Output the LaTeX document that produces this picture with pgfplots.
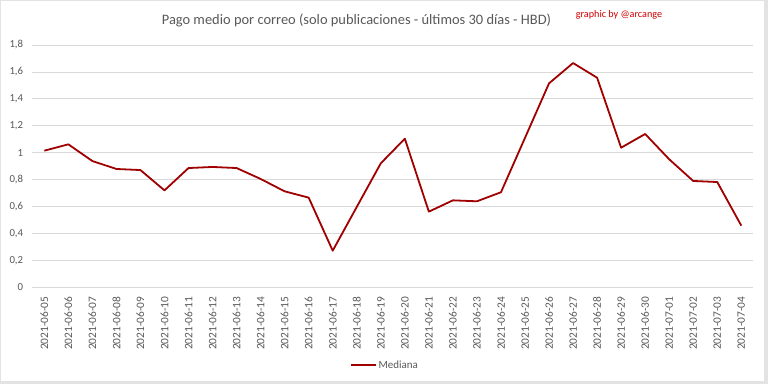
\documentclass[border=0pt]{standalone}
\usepackage{pgfplots}
\pgfplotsset{compat=1.18}
\usepackage{fontspec}
\setmainfont{Carlito}
\definecolor{gridgray}{HTML}{D9D9D9}
\definecolor{txtgray}{HTML}{595959}
\definecolor{linered}{HTML}{A00000}
\definecolor{sigred}{HTML}{D00000}
\definecolor{framegray}{HTML}{E3E3E3}
\pgfplotstableread{
x y
0 1.015
1 1.062
2 0.938
3 0.879
4 0.871
5 0.720
6 0.886
7 0.894
8 0.886
9 0.805
10 0.713
11 0.666
12 0.272
13 0.597
14 0.921
15 1.104
16 0.562
17 0.646
18 0.639
19 0.706
20 1.110
21 1.515
22 1.666
23 1.557
24 1.037
25 1.139
26 0.951
27 0.790
28 0.782
29 0.458
}\mediana
\begin{document}
\begin{tikzpicture}[x=1bp,y=1bp]
\useasboundingbox (0,0) rectangle (768,384);
\fill[framegray] (0,0) rectangle (768,384);
\fill[white] (1,3) rectangle (764,383);
\begin{axis}[
  at={(32.3bp,96.7bp)}, anchor=south west,
  scale only axis, width=721bp, height=242.3bp,
  xmin=-0.5, xmax=29.5, ymin=0, ymax=1.8,
  axis lines=left, axis line style={draw=none},
  ymajorgrids, grid style={gridgray, line width=0.8bp},
  major tick length=0pt,
  ytick={0,0.2,0.4,0.6,0.8,1,1.2,1.4,1.6,1.8},
  yticklabels={0,{0,2},{0,4},{0,6},{0,8},1,{1,2},{1,4},{1,6},{1,8}},
  xtick={0,...,29},
  xticklabels={2021-06-05,2021-06-06,2021-06-07,2021-06-08,2021-06-09,2021-06-10,2021-06-11,2021-06-12,2021-06-13,2021-06-14,2021-06-15,2021-06-16,2021-06-17,2021-06-18,2021-06-19,2021-06-20,2021-06-21,2021-06-22,2021-06-23,2021-06-24,2021-06-25,2021-06-26,2021-06-27,2021-06-28,2021-06-29,2021-06-30,2021-07-01,2021-07-02,2021-07-03,2021-07-04},
  yticklabel style={font=\fontsize{10.8}{12}\selectfont, color=txtgray, inner sep=0pt, anchor=east},
  yticklabel shift=9bp,
  xticklabel style={font=\fontsize{11.4}{12}\selectfont, color=txtgray, inner sep=0pt, rotate=90, anchor=east},
  xticklabel shift=9.4bp,
  legend style={at={(0.489,-0.321)}, anchor=center, draw=none, fill=none, inner sep=0pt,
    font=\fontsize{11}{12}\selectfont, text=txtgray, /tikz/every even column/.append style={column sep=0pt}},
  legend cell align=left,
  legend image code/.code={\draw[#1] (0bp,0bp) -- (25bp,0bp);},
]
\addplot[linered, line width=1.8bp, line join=round] table[x=x,y=y] {\mediana};
\addlegendentry{Mediana}
\end{axis}
\node[anchor=center, text=txtgray, font=\fontsize{14.5}{17}\selectfont, inner sep=0pt] at (356.5,364) {Pago medio por correo (solo publicaciones - últimos 30 días - HBD)};
\node[anchor=center, text=sigred, font=\fontsize{10.2}{12}\selectfont, inner sep=0pt] at (619,369.5) {graphic by @arcange};
\end{tikzpicture}
\end{document}
